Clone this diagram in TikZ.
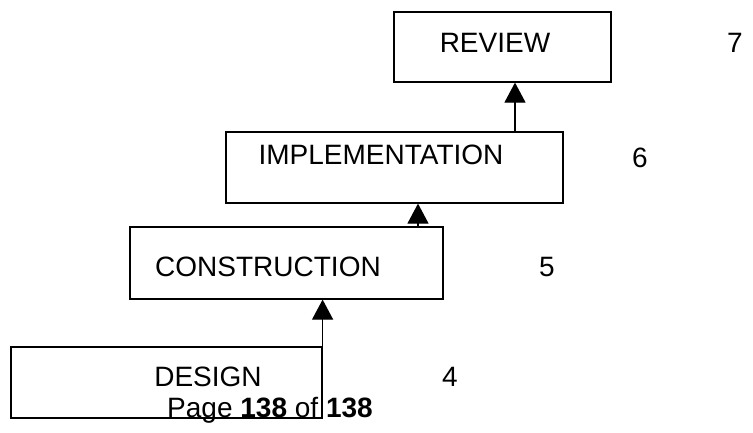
\documentclass[tikz,border=0pt]{standalone}
\usepackage{fontspec}
\setmainfont{Liberation Sans}
\usetikzlibrary{arrows.meta,calc}
\begin{document}
\begin{tikzpicture}[x=1pt,y=-1pt,
  box/.style={draw=black,line width=1.2pt,minimum width=#1,inner sep=0pt,rectangle},
  lbl/.style={font=\fontsize{28}{30}\selectfont,inner sep=0pt,anchor=center},
  arr/.style={line width=1.2pt,-{Triangle[width=21pt,length=20pt]}}]
\useasboundingbox (0,0) rectangle (753,432);
% boxes
\node[box=217pt,minimum height=70pt] (review) at (502.5,47) {};
\node[box=337pt,minimum height=71pt] (impl) at (394.5,167.5) {};
\node[box=313pt,minimum height=72pt] (cons) at (286.5,263) {};
\node[box=311pt,minimum height=71pt] (design) at (166.5,382.5) {};
% texts
\node[lbl] (treview) at (495,43) {REVIEW};
\node[lbl] (n7) at (735,43) {7};
\node[lbl] (timpl) at (381,155) {IMPLEMENTATION};
\node[lbl] (n6) at (640,158) {6};
\node[lbl] (tcons) at (268,267) {CONSTRUCTION};
\node[lbl] (n5) at (547,267) {5};
\node[lbl] (tdesign) at (208,377) {DESIGN};
\node[lbl] (n4) at (450,377) {4};
\node[lbl] (page) at (270,410) {Page \textbf{138} of \textbf{138}};
% connectors
\coordinate (c2) at (418,0);
\coordinate (c3) at (515,0);
\draw[arr] (design.south east) -- (design.south east |- cons.south);
\draw[arr] (c2 |- cons.north) -- (c2 |- impl.south);
\draw[arr] (c3 |- impl.north) -- (c3 |- review.south);
\end{tikzpicture}
\end{document}
